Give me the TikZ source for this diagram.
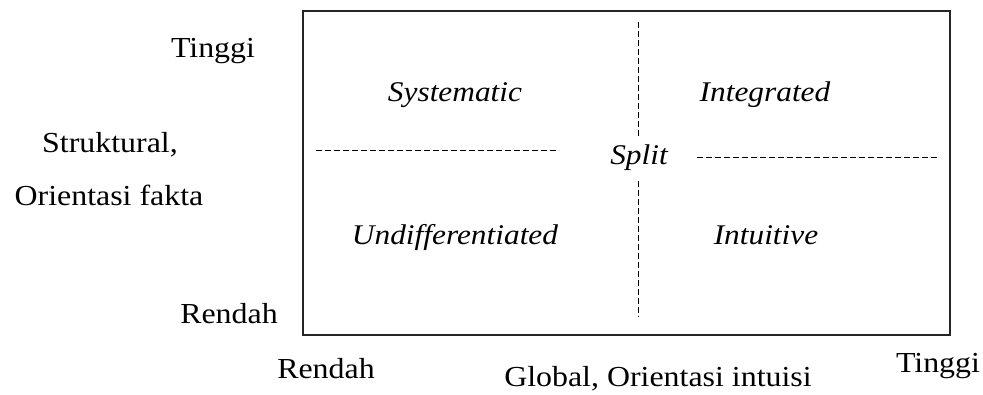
\documentclass[tikz,border=0pt]{standalone}
\usepackage{fontspec}
\setmainfont{Liberation Serif}[FakeStretch=1.1]
\begin{document}
\begin{tikzpicture}[x=1pt,y=-1pt,
  axislbl/.style={inner sep=0pt,anchor=base,font=\fontsize{29}{32}\selectfont},
  quadlbl/.style={inner sep=0pt,anchor=base,font=\fontsize{28.5}{32}\selectfont\itshape},
  frame/.style={draw=black!85,line width=1.6pt},
  divider/.style={draw=black,line width=1pt,dash pattern=on 6pt off 3pt}]
\useasboundingbox (0,0) rectangle (983,394);
% frame
\draw[frame] (303,11) rectangle (950,335);
% divider end points
\coordinate (vt1) at (638,22);
\coordinate (vt2) at (638,136);
\coordinate (vb1) at (638,181);
\coordinate (vb2) at (638,317);
\coordinate (hl1) at (316,150);
\coordinate (hl2) at (559,150);
\coordinate (hr1) at (697,157);
\coordinate (hr2) at (940,157);
\draw[divider] (vt1) -- (vt2);
\draw[divider] (vb1) -- (vb2);
\draw[divider] (hl1) -- (hl2);
\draw[divider] (hr1) -- (hr2);
% quadrant labels
\node[quadlbl] (sys) at (455,101) {Systematic};
\node[quadlbl] (int) at (765,101) {Integrated};
\node[quadlbl] (spl) at (639,164) {Split};
\node[quadlbl] (und) at (455,244) {Undifferentiated};
\node[quadlbl] (itv) at (766,244) {Intuitive};
% axis labels
\node[axislbl] (ytop) at (213,57) {Tinggi};
\node[axislbl] (ys1) at (110,152) {Struktural,};
\node[axislbl] (ys2) at (109,205) {Orientasi fakta};
\node[axislbl] (ybot) at (229,323) {Rendah};
\node[axislbl] (xlow) at (326,378) {Rendah};
\node[axislbl] (xlbl) at (658,386) {Global, Orientasi intuisi};
\node[axislbl] (xhigh) at (938,372) {Tinggi};
\end{tikzpicture}
\end{document}
